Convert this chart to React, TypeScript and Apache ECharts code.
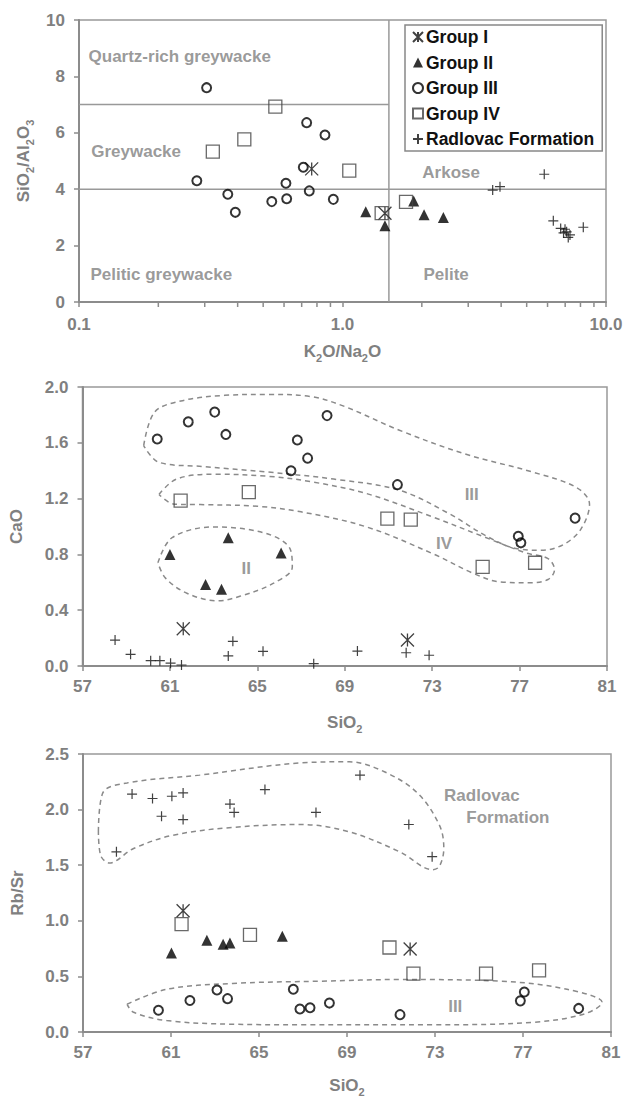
import React, { useEffect, useRef } from 'react';
import * as echarts from 'echarts';

const FONT = '"Liberation Sans", Arial, Helvetica, sans-serif';
const GRAY = '#808080';
const AXIS = '#8c8c8c';
const HULL = '#8a8a8a';

// ---------- Panel 1: K2O/Na2O vs SiO2/Al2O3 ----------
const p1GroupI = [[0.764, 4.72], [1.449, 3.15]];
const p1GroupII = [[1.225, 3.2], [1.449, 2.7], [1.863, 3.58], [2.04, 3.09], [2.414, 3.0]];
const p1GroupIII = [
  [0.305, 7.6], [0.28, 4.3], [0.367, 3.82], [0.392, 3.18], [0.539, 3.56], [0.614, 3.66],
  [0.61, 4.21], [0.731, 6.36], [0.71, 4.78], [0.748, 3.94], [0.858, 5.92], [0.923, 3.64],
];
const p1GroupIV = [[0.322, 5.33], [0.424, 5.77], [0.556, 6.93], [1.061, 4.66], [1.408, 3.15], [1.742, 3.55]];
const p1Radlovac = [
  [3.715, 3.97], [3.96, 4.09], [5.83, 4.53], [6.31, 2.88], [6.73, 2.61], [6.99, 2.58],
  [7.09, 2.49], [7.3, 2.38], [7.19, 2.29], [6.9, 2.45], [8.2, 2.65],
];
const p1Line7 = [[0.1, 7], [1.5, 7]];
const p1Line4 = [[0.1, 4], [10, 4]];
const p1LineV = [[1.5, 0], [1.5, 10]];
const p1MinorTicks = [0.2, 0.3, 0.4, 0.5, 0.6, 0.7, 0.8, 0.9, 2, 3, 4, 5, 6, 7, 8, 9];
const p1Labels = [
  { name: 'Quartz-rich greywacke', value: [0.1082, 8.69] },
  { name: 'Greywacke', value: [0.1108, 5.33] },
  { name: 'Pelitic greywacke', value: [0.11, 0.96] },
  { name: 'Arkose', value: [2.0, 4.6] },
  { name: 'Pelite', value: [2.02, 0.98] },
];

// ---------- Panel 2: SiO2 vs CaO ----------
const p2GroupI = [[61.61, 0.267], [71.87, 0.186]];
const p2GroupII = [[61.0, 0.8], [63.67, 0.92], [66.09, 0.81], [62.63, 0.585], [63.36, 0.55]];
const p2GroupIII = [
  [60.42, 1.627], [61.84, 1.75], [63.05, 1.82], [63.56, 1.66], [66.83, 1.62], [67.3, 1.49],
  [66.54, 1.4], [68.19, 1.795], [71.41, 1.3], [76.94, 0.93], [77.06, 0.883], [79.54, 1.06],
];
const p2GroupIV = [[61.49, 1.186], [64.61, 1.246], [70.95, 1.057], [72.02, 1.05], [75.31, 0.71], [77.71, 0.74]];
const p2Radlovac = [
  [58.49, 0.186], [59.2, 0.084], [60.12, 0.038], [60.54, 0.038], [61.03, 0.02], [61.53, 0.007],
  [63.88, 0.177], [63.67, 0.072], [65.26, 0.105], [67.58, 0.017], [69.58, 0.107], [71.81, 0.095],
  [72.86, 0.077],
];
const p2HullIII = [
  [59.8, 1.58], [60.3, 1.82], [61.5, 1.9], [63.5, 1.94], [65.5, 1.947], [67.5, 1.93], [69.0, 1.86],
  [71.5, 1.69], [74.5, 1.52], [77.6, 1.39], [79.6, 1.28], [80.2, 1.16], [79.8, 0.98], [79.0, 0.87],
  [78.0, 0.83], [76.9, 0.84], [75.5, 0.93], [73.8, 1.09], [71.5, 1.26], [68.5, 1.34], [65.5, 1.39],
  [62.5, 1.43], [60.5, 1.46], [59.8, 1.58],
];
const p2HullIV = [
  [60.5, 1.23], [61.3, 1.34], [63.0, 1.375], [65.5, 1.36], [67.5, 1.32], [70.0, 1.236], [73.0, 1.07],
  [75.3, 0.93], [77.3, 0.81], [78.3, 0.77], [78.6, 0.69], [78.3, 0.62], [77.5, 0.596], [76.1, 0.603],
  [74.9, 0.663], [73.0, 0.807], [70.0, 0.997], [67.0, 1.105], [65.0, 1.145], [62.4, 1.157],
  [61.2, 1.16], [60.5, 1.23],
];
const p2HullII = [
  [60.45, 0.74], [61.1, 0.92], [63.0, 0.997], [65.4, 0.95], [66.5, 0.84], [66.6, 0.71], [65.7, 0.59],
  [64.2, 0.5], [63.2, 0.467], [61.8, 0.52], [60.8, 0.63], [60.45, 0.74],
];
const p2Labels = [
  { name: 'III', value: [74.81, 1.23] },
  { name: 'IV', value: [73.54, 0.878] },
  { name: 'II', value: [64.49, 0.7] },
];

// ---------- Panel 3: SiO2 vs Rb/Sr ----------
const p3GroupI = [[61.55, 1.09], [71.87, 0.746]];
const p3GroupII = [[61.02, 0.71], [62.63, 0.826], [63.37, 0.79], [63.68, 0.8], [66.06, 0.86]];
const p3GroupIII = [
  [60.43, 0.195], [61.86, 0.283], [63.09, 0.378], [63.57, 0.3], [66.56, 0.384], [66.86, 0.207],
  [67.32, 0.218], [68.2, 0.26], [71.41, 0.156], [76.88, 0.28], [77.06, 0.36], [79.53, 0.212],
];
const p3GroupIV = [[61.48, 0.97], [64.59, 0.873], [70.93, 0.76], [72.02, 0.525], [75.32, 0.525], [77.73, 0.554]];
const p3Radlovac = [
  [58.52, 1.62], [59.23, 2.14], [60.16, 2.1], [60.57, 1.94], [61.04, 2.12], [61.55, 2.15],
  [61.55, 1.91], [63.68, 2.05], [63.87, 1.975], [65.27, 2.18], [67.59, 1.975], [69.59, 2.31],
  [71.81, 1.866], [72.87, 1.577],
];
const p3HullRadlovac = [
  [57.7, 1.8], [57.9, 2.15], [59.0, 2.24], [62.3, 2.31], [66.9, 2.42], [69.1, 2.43], [70.7, 2.34],
  [72.2, 2.15], [73.2, 1.86], [73.4, 1.65], [73.2, 1.49], [72.9, 1.46], [71.4, 1.62], [69.1, 1.8],
  [66.9, 1.866], [63.8, 1.84], [61.1, 1.77], [59.3, 1.65], [58.2, 1.52], [57.8, 1.59], [57.7, 1.8],
];
const p3HullIII = [
  [59.0, 0.25], [60.8, 0.384], [63.8, 0.437], [67.8, 0.457], [71.4, 0.472], [76.0, 0.457],
  [79.0, 0.384], [80.6, 0.265], [79.8, 0.163], [77.5, 0.088], [72.9, 0.065], [66.9, 0.065],
  [63.8, 0.07], [60.8, 0.103], [59.3, 0.177], [59.0, 0.25],
];
const p3Labels = [
  { name: 'Radlovac', value: [73.39, 2.128], pos: 'right' },
  { name: 'Formation', value: [74.4, 1.93], pos: 'right' },
  { name: 'III', value: [73.92, 0.23], pos: 'inside' },
];

const legendNames = ['Group I', 'Group II', 'Group III', 'Group IV', 'Radlovac Formation'];

const STAR = 'path://M0 0L10 10M10 0L0 10M5 0L5 10';
const PLUS = 'path://M5 0L5 10M0 5L10 5';

const SYM: Record<string, any> = {
  'Group I': { symbol: STAR, symbolSize: 13, itemStyle: { color: 'rgba(0,0,0,0)', borderColor: '#111', borderWidth: 1.3 } },
  'Group II': { symbol: 'triangle', symbolSize: 11, itemStyle: { color: '#000' } },
  'Group III': { symbol: 'circle', symbolSize: 9, itemStyle: { color: 'rgba(255,255,255,0)', borderColor: '#000', borderWidth: 2 } },
  'Group IV': { symbol: 'rect', symbolSize: 13, itemStyle: { color: 'rgba(255,255,255,0)', borderColor: '#444', borderWidth: 1.3 } },
  'Radlovac Formation': { symbol: PLUS, symbolSize: 10, itemStyle: { color: 'rgba(0,0,0,0)', borderColor: '#111', borderWidth: 1.2 } },
};

const rich = {
  a: { fontSize: 17, fontWeight: 'bold', color: GRAY, fontFamily: FONT, lineHeight: 24 },
  b: { fontSize: 11, fontWeight: 'bold', color: GRAY, fontFamily: FONT, lineHeight: 24, verticalAlign: 'bottom' },
};

function axisBase(gridIndex: number) {
  return {
    gridIndex,
    axisLine: { show: true, onZero: false, lineStyle: { color: AXIS, width: 2 } },
    axisTick: { show: true, inside: false, length: 5, lineStyle: { color: AXIS, width: 1.5 } },
    splitLine: { show: false },
    axisLabel: { color: GRAY, fontSize: 17, fontWeight: 'bold', fontFamily: FONT },
    nameTextStyle: { rich },
    nameLocation: 'middle',
  };
}

function scatterSeries(name: string, data: number[][], g: number) {
  return { type: 'scatter', name, data, xAxisIndex: g, yAxisIndex: g, z: 5, silent: true, ...SYM[name] };
}

function hull(data: number[][], g: number) {
  return {
    type: 'line', data, xAxisIndex: g, yAxisIndex: g, smooth: 0.35, symbol: 'none', silent: true, z: 2,
    lineStyle: { color: HULL, width: 1.5, type: [5, 4] },
  };
}

function divider(data: number[][]) {
  return {
    type: 'line', data, xAxisIndex: 0, yAxisIndex: 0, symbol: 'none', silent: true, z: 2,
    lineStyle: { color: '#999', width: 1.5 },
  };
}

function labels(data: any[], g: number, defPos: string) {
  return {
    type: 'scatter', xAxisIndex: g, yAxisIndex: g, symbolSize: 1, silent: true, z: 3,
    itemStyle: { color: 'rgba(0,0,0,0)' },
    data: data.map((d) => ({
      name: d.name, value: d.value,
      label: { position: d.pos || defPos },
    })),
    label: {
      show: true, position: defPos, distance: 0, formatter: '{b}',
      color: GRAY, fontSize: 17, fontWeight: 'bold', fontFamily: FONT,
    },
  };
}

const option: any = {
  animation: false,
  textStyle: { fontFamily: FONT },
  grid: [
    { left: 79, top: 20, width: 527, height: 282, show: true, borderColor: '#999', borderWidth: 1.5 },
    { left: 82, top: 387, width: 525, height: 279, show: true, borderColor: '#999', borderWidth: 1.5 },
    { left: 83, top: 754, width: 528, height: 283, show: true, borderColor: '#999', borderWidth: 1.5 },
  ],
  legend: {
    data: legendNames,
    orient: 'vertical',
    left: 405,
    top: 25,
    itemWidth: 10,
    itemHeight: 10,
    itemGap: 7.5,
    padding: [3, 8, 3, 7],
    borderColor: '#888',
    borderWidth: 1.5,
    backgroundColor: '#fff',
    selectedMode: false,
    textStyle: { color: '#111', fontSize: 17.5, fontWeight: 'bold', fontFamily: FONT, lineHeight: 17, padding: [0, 0, 0, -2] },
  },
  xAxis: [
    {
      ...axisBase(0), type: 'log', logBase: 10, min: 0.1, max: 10,
      axisLabel: { ...axisBase(0).axisLabel, margin: 14, formatter: (v: number) => Number(v).toFixed(1) },
      name: '{a|K}{b|2}{a|O/Na}{b|2}{a|O}', nameGap: 37,
    },
    {
      ...axisBase(1), type: 'value', min: 57, max: 81, interval: 4,
      axisLabel: { ...axisBase(1).axisLabel, margin: 12 },
      name: '{a|SiO}{b|2}', nameGap: 44,
    },
    {
      ...axisBase(2), type: 'value', min: 57, max: 81, interval: 4,
      axisLabel: { ...axisBase(2).axisLabel, margin: 12 },
      name: '{a|SiO}{b|2}', nameGap: 41,
    },
  ],
  yAxis: [
    {
      ...axisBase(0), type: 'value', min: 0, max: 10, interval: 2,
      axisLabel: { ...axisBase(0).axisLabel, margin: 14 },
      name: '{a|SiO}{b|2}{a|/Al}{b|2}{a|O}{b|3}', nameRotate: 90, nameGap: 44,
    },
    {
      ...axisBase(1), type: 'value', min: 0, max: 2, interval: 0.4,
      axisLabel: { ...axisBase(1).axisLabel, margin: 14, formatter: (v: number) => v.toFixed(1) },
      name: '{a|CaO}', nameRotate: 90, nameGap: 54,
    },
    {
      ...axisBase(2), type: 'value', min: 0, max: 2.5, interval: 0.5,
      axisLabel: { ...axisBase(2).axisLabel, margin: 14, formatter: (v: number) => v.toFixed(1) },
      name: '{a|Rb/Sr}', nameRotate: 90, nameGap: 54,
    },
  ],
  series: [
    divider(p1Line7),
    divider(p1Line4),
    divider(p1LineV),
    {
      type: 'custom', xAxisIndex: 0, yAxisIndex: 0, silent: true, clip: false, z: 4,
      data: p1MinorTicks.map((v) => [v, 0]),
      renderItem: (_p: any, api: any) => {
        const pt = api.coord([api.value(0), api.value(1)]);
        return {
          type: 'line',
          shape: { x1: pt[0], y1: pt[1], x2: pt[0], y2: pt[1] + 5 },
          style: { stroke: AXIS, lineWidth: 1.5 },
        };
      },
    },
    labels(p1Labels, 0, 'right'),
    scatterSeries('Group I', p1GroupI, 0),
    scatterSeries('Group II', p1GroupII, 0),
    scatterSeries('Group III', p1GroupIII, 0),
    scatterSeries('Group IV', p1GroupIV, 0),
    scatterSeries('Radlovac Formation', p1Radlovac, 0),

    hull(p2HullIII, 1),
    hull(p2HullIV, 1),
    hull(p2HullII, 1),
    labels(p2Labels, 1, 'inside'),
    scatterSeries('Group I', p2GroupI, 1),
    scatterSeries('Group II', p2GroupII, 1),
    scatterSeries('Group III', p2GroupIII, 1),
    scatterSeries('Group IV', p2GroupIV, 1),
    scatterSeries('Radlovac Formation', p2Radlovac, 1),

    hull(p3HullRadlovac, 2),
    hull(p3HullIII, 2),
    labels(p3Labels, 2, 'right'),
    scatterSeries('Group I', p3GroupI, 2),
    scatterSeries('Group II', p3GroupII, 2),
    scatterSeries('Group III', p3GroupIII, 2),
    scatterSeries('Group IV', p3GroupIV, 2),
    scatterSeries('Radlovac Formation', p3Radlovac, 2),
  ],
};

export default function App() {
  const ref = useRef<HTMLDivElement>(null);
  useEffect(() => {
    document.body.style.margin = '0';
    const chart = echarts.init(ref.current as HTMLDivElement, null, { renderer: 'svg' });
    chart.setOption(option);
    return () => chart.dispose();
  }, []);
  return <div ref={ref} style={{ width: 627, height: 1098, background: '#fff' }} />;
}
